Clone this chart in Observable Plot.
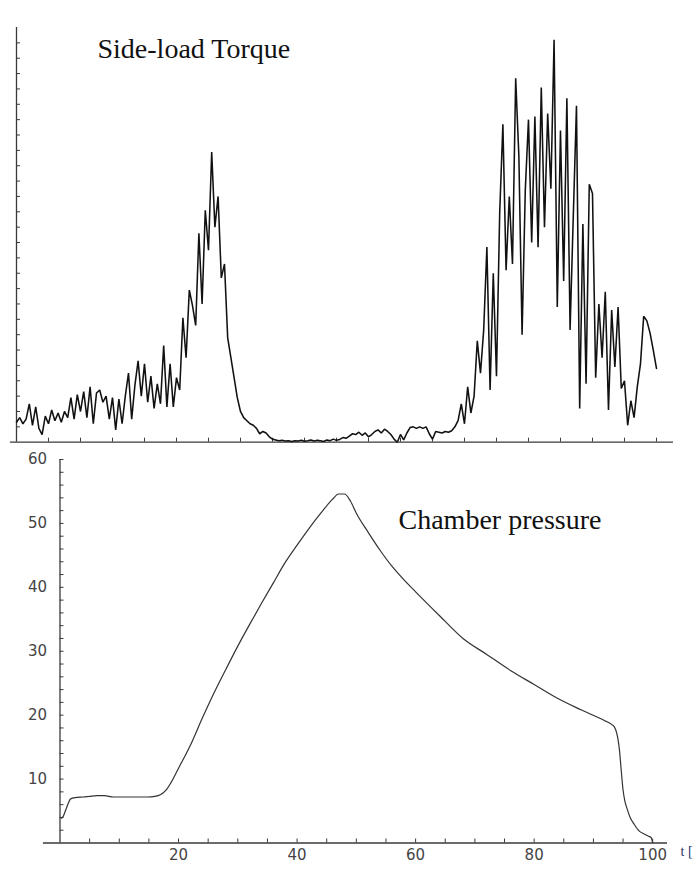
<!DOCTYPE html>
<html>
<head>
<meta charset="utf-8">
<script src="https://cdn.jsdelivr.net/npm/d3@7"></script>
<script src="https://cdn.jsdelivr.net/npm/@observablehq/plot@0.6"></script>
<style>
html, body { margin: 0; padding: 0; background: #fff; }
#wrap { position: relative; width: 694px; height: 875px; overflow: hidden; background: #fff; }
#top, #bottom { position: absolute; left: 0; }
#top { top: 0; }
#bottom { top: 445px; }
</style>
</head>
<body>
<div id="wrap"><div id="top"></div><div id="bottom"></div></div>
<script>
// ---- data ----
const titleTop = "Side-load Torque";
const titleBottom = "Chamber pressure";
const timeLabel = "t [";

// Side-load torque, sampled every 0.5 time units from t = 0 (arbitrary units)
const torqueStart = 0;
const torqueStep = 0.5;
const torqueValues = [
  1.3, 1.6, 1.2, 1.5, 2.5, 1.1, 2.3, 0.9, 0.5, 1.7,
  1.2, 2.1, 1.4, 1.9, 1.3, 2.0, 1.6, 2.9, 1.5, 3.1,
  2.0, 3.3, 1.6, 3.6, 1.2, 3.2, 3.4, 2.6, 3.0, 1.5,
  2.9, 0.8, 2.8, 1.2, 3.0, 4.5, 1.5, 3.7, 5.3, 3.0,
  5.1, 2.6, 4.3, 2.2, 3.8, 2.5, 6.3, 2.3, 5.1, 2.3,
  4.2, 3.4, 8.1, 5.5, 9.9, 8.9, 7.6, 13.6, 9.0, 15.1,
  12.5, 18.9, 14.0, 16.0, 10.7, 11.6, 6.8, 5.5, 4.2, 2.9,
  2.0, 1.6, 1.4, 1.2, 1.1, 0.9, 0.55, 0.7, 0.6, 0.35,
  0.2, 0.15, 0.1, 0.12, 0.08, 0.1, 0.05, 0.1, 0.08, 0.12,
  0.06, 0.1, 0.15, 0.08, 0.12, 0.1, 0.05, 0.15, 0.1, 0.2,
  0.12, 0.18, 0.3, 0.25, 0.4, 0.55, 0.5, 0.65, 0.45, 0.6,
  0.35, 0.5, 0.7, 0.8, 0.6, 0.85, 0.7, 0.5, 0.2, 0.0,
  0.5, 0.15, 0.6, 0.95, 1.0, 0.9, 1.0, 0.9, 1.0, 0.55,
  0.2, 0.7, 0.65, 0.6, 0.7, 0.65, 0.75, 1.0, 1.4, 2.5,
  1.2, 3.6, 1.9, 3.0, 6.6, 4.5, 7.3, 12.7, 3.4, 11.0,
  4.3, 14.9, 20.7, 11.2, 16.0, 11.6, 23.7, 18.6, 7.0, 16.4,
  21.0, 13.0, 21.2, 12.7, 23.1, 14.0, 21.4, 16.5, 26.2, 8.8,
  20.3, 10.5, 22.4, 7.3, 14.7, 21.9, 2.2, 14.2, 3.8, 16.8,
  16.2, 4.2, 9.0, 5.5, 9.8, 2.1, 8.6, 4.9, 8.8, 3.5,
  4.0, 1.1, 2.7, 1.6, 3.6, 5.1, 8.2, 7.9, 7.1, 6.0,
  4.8
];

// Chamber pressure
const pressureTime = [
  0.2, 0.5, 0.9, 1.4, 1.8, 2.6, 4, 5, 6.3, 7.5,
  9, 11, 13, 14.7, 16, 17, 18, 18.7, 20, 22,
  24, 26, 28, 30, 32, 34, 36, 38, 40, 42,
  44, 46, 47, 48, 49, 50, 52, 54, 56, 58,
  60, 64, 68, 72, 76, 80, 84, 88, 92, 93,
  93.5, 93.8, 94.1, 94.4, 94.7, 95, 95.3, 95.7, 96.2, 96.9,
  97.7, 98.6, 99.3, 99.7, 100
];
const pressureValues = [
  3.9, 4.1, 5.0, 6.2, 6.9, 7.1, 7.2, 7.3, 7.4, 7.4,
  7.2, 7.2, 7.2, 7.2, 7.3, 7.6, 8.4, 9.4, 11.7, 15.3,
  19.5, 23.5, 27.2, 30.8, 34.2, 37.5, 40.7, 43.9, 46.6, 49.2,
  51.6, 53.8, 54.6, 54.6, 53.5, 51.6, 48.6, 45.8, 43.3, 41.2,
  39.3, 35.6, 32.0, 29.5, 27.0, 24.8, 22.6, 20.8, 19.1, 18.6,
  18.2, 17.6, 16.5, 14.5, 11.3, 8.3, 6.6, 5.3, 4.0, 2.9,
  1.9, 1.4, 1.05, 0.9, 0.05
];

// ticks
const torqueYTicks = [1,2,3,4,5,6,7,8,9,10,11,12,13,14,15,16,17,18,19,20,21,22,23,24,25,26];
const timeTicks = [5,10,15,20,25,30,35,40,45,50,55,60,65,70,75,80,85,90,95,100];
const timeLabelTicks = [20, 40, 60, 80, 100];
const pressureMinorTicks = [2,4,6,8,10,12,14,16,18,20,22,24,26,28,30,32,34,36,38,40,42,44,46,48,50,52,54,56,58,60];
const pressureLabelTicks = [10, 20, 30, 40, 50, 60];

// ---- build ----
const torque = torqueValues.map((v, i) => ({t: torqueStart + i * torqueStep, v}));
const pressure = pressureTime.map((t, i) => ({t, v: pressureValues[i]}));

const axisColor = "#3a3a3a";
const blank = () => "";

const topChart = Plot.plot({
  width: 694, height: 445,
  marginTop: 27, marginBottom: 3.3, marginLeft: 16, marginRight: 21,
  x: {domain: [0, 102.66], axis: null},
  y: {domain: [0, 27], axis: null},
  style: {background: "transparent", color: axisColor, overflow: "visible"},
  marks: [
    Plot.ruleY([0], {x1: -0.95, x2: 102.66, stroke: axisColor, strokeWidth: 1.3}),
    Plot.ruleX([0], {y1: 0, y2: 27, stroke: axisColor, strokeWidth: 1.3}),
    Plot.axisY(torqueYTicks, {anchor: "left", tickSize: -4, tickFormat: blank, label: null}),
    Plot.axisX(timeTicks, {anchor: "bottom", tickSize: -4, tickFormat: blank, label: null}),
    Plot.line(torque, {x: "t", y: "v", stroke: "#111", strokeWidth: 1.55, strokeLinejoin: "miter"}),
    Plot.text([titleTop], {frameAnchor: "top-left", dx: 81, dy: 30, textAnchor: "start", lineAnchor: "bottom",
      fontFamily: "Liberation Serif", fontSize: 28, fill: "#111"})
  ]
});
document.getElementById("top").appendChild(topChart);

const bottomChart = Plot.plot({
  width: 694, height: 430,
  marginTop: 14, marginBottom: 32.5, marginLeft: 59.5, marginRight: 27,
  x: {domain: [0, 102.5], axis: null},
  y: {domain: [0, 60], axis: null},
  style: {background: "transparent", color: axisColor, fontFamily: "DejaVu Sans", fontSize: "15px", overflow: "visible"},
  marks: [
    Plot.ruleY([0], {x1: -2.8, x2: 102.5, stroke: axisColor, strokeWidth: 1.3}),
    Plot.ruleX([0], {y1: 0, y2: 60, stroke: axisColor, strokeWidth: 1.3}),
    Plot.axisY(pressureMinorTicks, {anchor: "left", tickSize: -4, tickFormat: blank, label: null}),
    Plot.axisY(pressureLabelTicks, {anchor: "left", tickSize: 0, tickPadding: 13, label: null, fill: "#444"}),
    Plot.axisX(timeTicks, {anchor: "bottom", tickSize: -4, tickFormat: blank, label: null}),
    Plot.axisX(timeLabelTicks, {anchor: "bottom", tickSize: 0, tickPadding: 6, label: null, fill: "#444"}),
    Plot.line(pressure, {x: "t", y: "v", curve: "monotone-x", stroke: "#333", strokeWidth: 1.2}),
    Plot.text([titleBottom], {frameAnchor: "top-left", dx: 338.5, dy: 69, textAnchor: "start", lineAnchor: "bottom",
      fontFamily: "Liberation Serif", fontSize: 28, fill: "#111"}),
    Plot.text([timeLabel], {frameAnchor: "bottom-right", dx: 13, dy: 12.5, textAnchor: "start", lineAnchor: "bottom",
      fontFamily: "Liberation Serif", fontSize: 14, fill: "#1f2f66"})
  ]
});
document.getElementById("bottom").appendChild(bottomChart);
</script>
</body>
</html>
